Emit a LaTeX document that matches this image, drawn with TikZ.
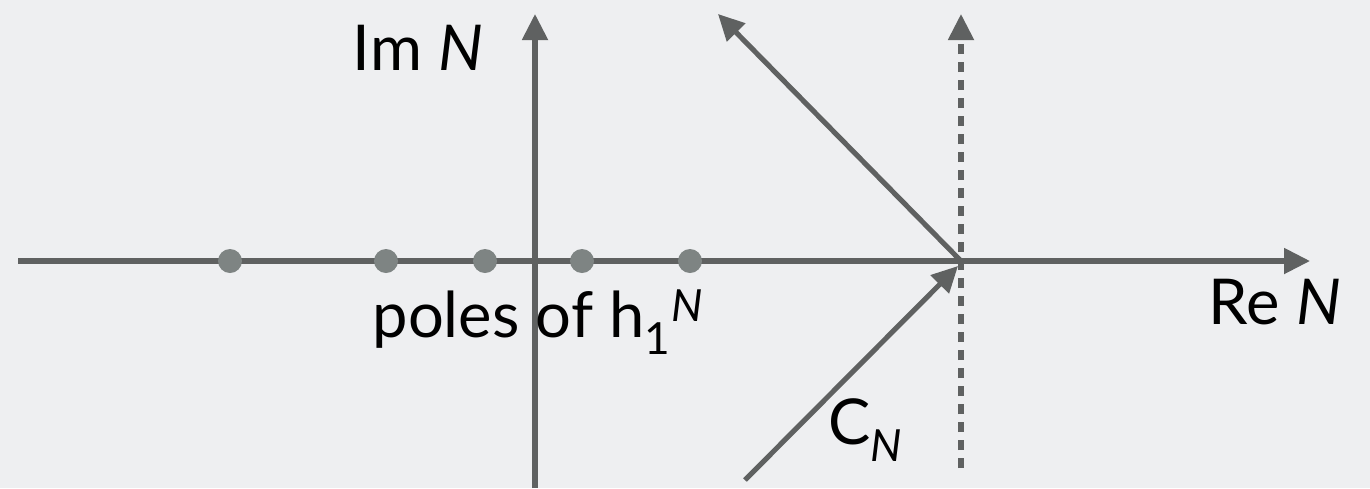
\documentclass[tikz,border=0pt]{standalone}
\usepackage{fontspec}
\setmainfont{Lato}
\usetikzlibrary{arrows.meta}
\definecolor{bg}{HTML}{EEEFF1}
\definecolor{ax}{HTML}{5F6161}
\definecolor{polecol}{HTML}{7E8483}
\newcommand{\lbl}{\fontsize{36}{42}\selectfont}

\begin{document}
\begin{tikzpicture}[x=0.02cm, y=-0.02cm, line width=2.9pt,
    axis/.style={draw=ax, -{Triangle[length=0.52cm, width=0.5cm]}},
    pole/.style={circle, fill=polecol, inner sep=0pt, minimum size=0.48cm},
    txt/.style={text=black, font=\lbl, inner sep=0pt}]
      \fill[bg] (0,0) rectangle (1370,488);
      \useasboundingbox (0,0) rectangle (1370,488);
      \coordinate (w) at (18,261);
      \coordinate (e) at (1310,261);
      \coordinate (s) at (535,488);
      \coordinate (n) at (535,14);
      \coordinate (c) at (961,261);
      \coordinate (cd) at (961,468);
      \coordinate (cu) at (961,14);
      \coordinate (ul) at (718,14);
      \coordinate (ll) at (745,480);
      \coordinate (ct) at (958,266);
      \draw[axis] (w) -- (e);
      \draw[axis] (s) -- (n);
      \draw[axis, dash pattern=on 0.2cm off 0.16cm] (cd) -- (cu);
      \draw[axis] (c) -- (ul);
      \draw[axis] (ll) -- (ct);
      \foreach \x [count=\i] in {230,386,485,582,690}
        \node[pole] (p\i) at (\x,261) {};
      \node[txt] (im) at (418,48) {Im \textit{N}};
      \node[txt] (re) at (1275,302) {Re \textit{N}};
      \node[txt] (poles) at (538,322) {poles of h\textsubscript{1}\textsuperscript{\itshape N}};
      \node[txt] (cn) at (866,430) {C\textsubscript{\itshape N}};
    \end{tikzpicture}
\end{document}
